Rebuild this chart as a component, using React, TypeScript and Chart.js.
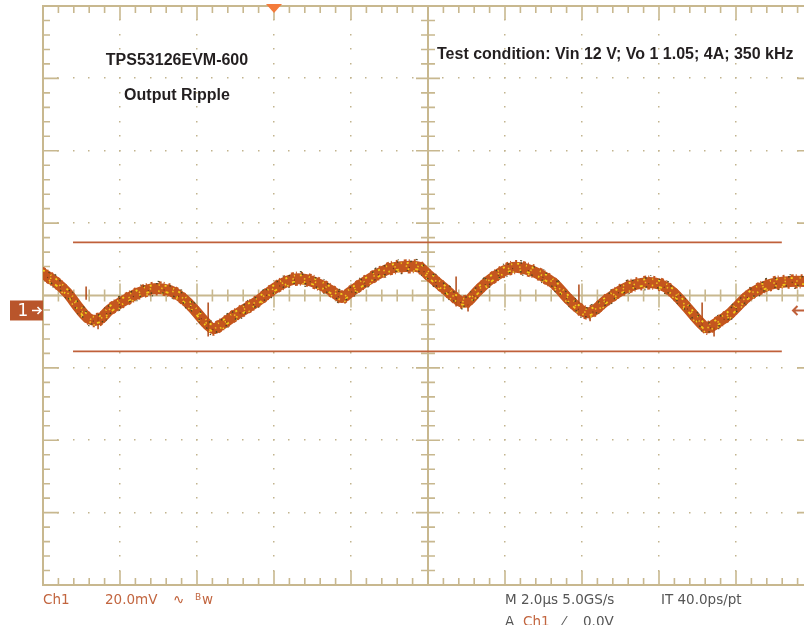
import React, { useEffect, useRef } from "react";
import { Chart, registerables } from "chart.js";

Chart.register(...registerables);

// ---- Data (time in µs, voltage in mV relative to Ch1 ground) ----
const timeUs = [
  -6.0, -5.69, -5.38, -5.04, -4.78, -4.52, -4.26, -3.66, -3.35, -3.04, -2.7, -2.36, -2.05, -1.79,
  -1.58, -1.35, -1.01, -0.44, 0.08, 0.49, 0.81, 1.19, 1.53, 1.77, 1.97, 2.42, 3.01, 3.53, 3.79,
  3.97, 4.39, 4.83, 5.04, 5.27, 5.69, 6.21, 6.6, 6.91, 7.3, 7.61, 8.03, 8.26, 8.65, 9.17, 9.69,
  10.03, 10.34, 10.73, 11.06, 11.25, 11.45, 11.84, 12.36, 12.88, 13.4, 14.0,
];
const rippleMv = [
  10.2, 8.0, 5.0, 0.3, -2.4, -2.4, 0.3, 4.1, 5.5, 6.1, 5.5, 3.3, 0.0, -3.2,
  -5.0, -3.8, -1.3, 2.5, 6.6, 8.6, 8.6, 7.2, 5.2, 3.6, 5.0, 8.3, 11.6, 12.2, 11.9,
  10.2, 6.4, 2.6, 2.6, 5.2, 9.1, 11.9, 11.3, 9.9, 7.2, 3.6, -0.3, -0.3, 3.0, 6.4, 7.7,
  7.2, 5.2, 0.8, -3.2, -4.8, -3.8, -0.9, 4.4, 7.2, 8.0, 8.0,
];
const spikeTimeUs = [-4.88, -4.57, -1.71, 4.73, 5.04, 7.92, 8.21, 11.12, 11.43];
const spikeHighMv = [6.6, -1.9, 2.2, 9.4, 1.7, 7.2, -1.1, 2.2, -4.7];
const spikeLowMv = [3.0, -5.2, -7.2, 1.1, -0.3, 1.1, -3.0, -4.4, -7.2];
const cursorLevelsMv = [18.8, -11.3];
const cursorSpanUs = [-5.22, 13.19];

const triggerTimeUs = 0;
const triggerLevelMv = 0;
const X_MIN = -6;
const X_MAX = 14; // 2.0 µs/div × 10 div
const MV_PER_DIV = 20;
const SCREEN_CENTER_MV = 4.14;
const Y_MIN = SCREEN_CENTER_MV - 4 * MV_PER_DIV;
const Y_MAX = SCREEN_CENTER_MV + 4 * MV_PER_DIV;

const titleLines = ["TPS53126EVM-600", "Output Ripple"];
const conditionText = "Test condition: Vin 12 V; Vo 1 1.05; 4A; 350 kHz";

const GRAT = "#c8b88f";
const DOT = "#c2b48e";
const TRACE = "#c4561e";
const CURSOR = "#c0603a";
const LABEL_ORANGE = "#c2653f";
const LABEL_GREY = "#555555";

const graticulePlugin = {
  id: "graticule",
  beforeDatasetsDraw(chart: any) {
    const { ctx, chartArea } = chart;
    const { left, right, top, bottom } = chartArea;
    const dx = (right - left) / 10;
    const dy = (bottom - top) / 8;
    ctx.save();
    ctx.fillStyle = DOT;
    for (let i = 1; i < 10; i++) {
      if (i === 5) continue;
      const xp = left + i * dx;
      for (let k = 1; k < 40; k++) {
        const yp = top + (k * dy) / 5;
        ctx.fillRect(Math.round(xp) - 1, Math.round(yp) - 1, 1.5, 1.5);
      }
    }
    for (let j = 1; j < 8; j++) {
      if (j === 4) continue;
      const yp = top + j * dy;
      for (let k = 1; k < 50; k++) {
        const xp = left + (k * dx) / 5;
        ctx.fillRect(Math.round(xp) - 1, Math.round(yp) - 1, 1.5, 1.5);
      }
    }
    ctx.strokeStyle = GRAT;
    const cx = left + 5 * dx;
    const cy = top + 4 * dy;
    ctx.lineWidth = 2;
    ctx.beginPath();
    ctx.moveTo(cx, top);
    ctx.lineTo(cx, bottom);
    ctx.moveTo(left, cy);
    ctx.lineTo(right, cy);
    ctx.stroke();
    ctx.lineWidth = 1.6;
    ctx.beginPath();
    for (let k = 1; k < 40; k++) {
      const yp = top + (k * dy) / 5;
      const h = k % 5 === 0 ? 12 : 7;
      ctx.moveTo(cx - h, yp);
      ctx.lineTo(cx + h, yp);
    }
    for (let k = 1; k < 50; k++) {
      const xp = left + (k * dx) / 5;
      const h = k % 5 === 0 ? 12 : 6;
      ctx.moveTo(xp, cy - h);
      ctx.lineTo(xp, cy + h);
    }
    for (let k = 1; k < 50; k++) {
      const xp = left + (k * dx) / 5;
      const h = k % 5 === 0 ? 14 : 7;
      ctx.moveTo(xp, top);
      ctx.lineTo(xp, top + h);
      ctx.moveTo(xp, bottom);
      ctx.lineTo(xp, bottom - h);
    }
    for (let k = 1; k < 40; k++) {
      const yp = top + (k * dy) / 5;
      const h = k % 5 === 0 ? 16 : 7;
      ctx.moveTo(left, yp);
      ctx.lineTo(left + h, yp);
      ctx.moveTo(right, yp);
      ctx.lineTo(right - h, yp);
    }
    ctx.stroke();
    ctx.lineWidth = 2;
    ctx.strokeRect(left, top, right - left, bottom - top);
    ctx.restore();
  },
};

const texturePlugin = {
  id: "texture",
  afterDatasetsDraw(chart: any) {
    const { ctx, chartArea } = chart;
    const meta = chart.getDatasetMeta(0);
    const line: any = meta.dataset;
    if (!line) return;
    const passes = [
      { dy: -6.0, color: TRACE, w: 2.2, dash: [3, 2, 1, 4, 2, 6], off: 0 },
      { dy: 6.0, color: TRACE, w: 2.2, dash: [2, 5, 3, 2, 1, 5], off: 3 },
      { dy: -7.0, color: "#5a4f26", w: 1.2, dash: [1, 17, 2, 23], off: 4 },
      { dy: 7.0, color: "#5a4f26", w: 1.2, dash: [1.5, 19, 1, 15], off: 9 },
      { dy: -3.4, color: "#f4d51f", w: 1.8, dash: [2, 7, 1, 5], off: 0 },
      { dy: 2.8, color: "#f2cc1a", w: 1.8, dash: [3, 9, 1.5, 6], off: 5 },
      { dy: -0.3, color: "#eec421", w: 1.5, dash: [1.5, 10], off: 3 },
      { dy: 4.8, color: "#f0d030", w: 1.4, dash: [1.5, 14], off: 8 },
      { dy: -4.8, color: "#4a4622", w: 1.3, dash: [1.5, 12], off: 7 },
      { dy: 4.2, color: "#4a4622", w: 1.3, dash: [1.5, 10], off: 2 },
      { dy: 1.0, color: "#6a3a18", w: 1.2, dash: [1, 15], off: 11 },
    ];
    ctx.save();
    ctx.beginPath();
    ctx.rect(chartArea.left, chartArea.top, chartArea.right - chartArea.left, chartArea.bottom - chartArea.top);
    ctx.clip();
    for (const p of passes) {
      ctx.save();
      ctx.translate(0, p.dy);
      ctx.setLineDash(p.dash);
      ctx.lineDashOffset = p.off;
      ctx.strokeStyle = p.color;
      ctx.lineWidth = p.w;
      ctx.beginPath();
      if (typeof line.path === "function") {
        line.path(ctx);
      } else {
        meta.data.forEach((pt: any, i: number) => (i ? ctx.lineTo(pt.x, pt.y) : ctx.moveTo(pt.x, pt.y)));
      }
      ctx.stroke();
      ctx.restore();
    }
    ctx.restore();
  },
};

const markerPlugin = {
  id: "markers",
  afterDraw(chart: any) {
    const { ctx, scales, chartArea } = chart;
    const xs = scales.x;
    const ys = scales.y;
    ctx.save();
    const tx = xs.getPixelForValue(triggerTimeUs);
    ctx.fillStyle = "#f47b3b";
    ctx.beginPath();
    ctx.moveTo(tx - 8, 4);
    ctx.lineTo(tx + 8, 4);
    ctx.lineTo(tx, 13);
    ctx.closePath();
    ctx.fill();
    const gy = ys.getPixelForValue(0);
    ctx.fillStyle = "#b9552b";
    ctx.fillRect(10, gy - 10, 33, 20);
    ctx.fillStyle = "#ffffff";
    ctx.font = '17px "DejaVu Sans"';
    ctx.textAlign = "center";
    ctx.textBaseline = "middle";
    ctx.fillText("1", 23, gy + 1);
    ctx.strokeStyle = "#ffffff";
    ctx.lineWidth = 1.6;
    ctx.beginPath();
    ctx.moveTo(32, gy);
    ctx.lineTo(41, gy);
    ctx.moveTo(37.5, gy - 3.5);
    ctx.lineTo(41, gy);
    ctx.lineTo(37.5, gy + 3.5);
    ctx.stroke();
    const ty = ys.getPixelForValue(triggerLevelMv);
    ctx.strokeStyle = CURSOR;
    ctx.lineWidth = 2;
    ctx.beginPath();
    ctx.moveTo(806, ty);
    ctx.lineTo(793, ty);
    ctx.moveTo(797.5, ty - 4.5);
    ctx.lineTo(793, ty);
    ctx.lineTo(797.5, ty + 4.5);
    ctx.stroke();

    ctx.fillStyle = "#231f20";
    ctx.textBaseline = "alphabetic";
    ctx.textAlign = "center";
    ctx.font = 'bold 16px "Liberation Sans", Arial, sans-serif';
    ctx.fillText(titleLines[0], 177, 65);
    ctx.fillText(titleLines[1], 177, 100);
    ctx.textAlign = "left";
    ctx.fillText(conditionText, 437, 59);

    const base1 = chartArea.bottom + 19;
    const base2 = chartArea.bottom + 41;
    ctx.font = '13.5px "DejaVu Sans"';
    ctx.fillStyle = LABEL_ORANGE;
    ctx.fillText("Ch1", 43, base1);
    ctx.fillText("20.0mV", 105, base1);
    ctx.fillText("∿", 173, base1);
    ctx.font = '9px "DejaVu Sans"';
    ctx.fillText("B", 195, base1 - 4);
    ctx.font = '13.5px "DejaVu Sans"';
    ctx.fillText("w", 202, base1);
    ctx.fillStyle = LABEL_GREY;
    ctx.fillText("M 2.0µs 5.0GS/s", 505, base1);
    ctx.fillText("IT 40.0ps/pt", 661, base1);
    ctx.fillText("A", 505, base2);
    ctx.fillStyle = LABEL_ORANGE;
    ctx.fillText("Ch1", 523, base2);
    ctx.fillStyle = LABEL_GREY;
    ctx.fillText("⁄", 563, base2);
    ctx.fillText("0.0V", 583, base2);
    ctx.restore();
  },
};

export default function App() {
  const ref = useRef<HTMLCanvasElement | null>(null);
  useEffect(() => {
    if (!ref.current) return;
    const waveform = timeUs.map((t, i) => ({ x: t, y: rippleMv[i] }));
    const spikes: any[] = [];
    spikeTimeUs.forEach((t, i) => {
      spikes.push({ x: t, y: spikeHighMv[i] }, { x: t, y: spikeLowMv[i] }, { x: t, y: null });
    });
    const cursorSets = cursorLevelsMv.map((lv) => ({
      data: cursorSpanUs.map((t) => ({ x: t, y: lv })),
      borderColor: CURSOR,
      borderWidth: 1.7,
      pointRadius: 0,
      tension: 0,
    }));
    const chart = new Chart(ref.current, {
      type: "line",
      data: {
        datasets: [
          {
            data: waveform,
            borderColor: TRACE,
            borderWidth: 11,
            pointRadius: 0,
            tension: 0.35,
            borderCapStyle: "round",
            borderJoinStyle: "round",
            order: 1,
          } as any,
          {
            data: spikes,
            borderColor: "#b04a18",
            borderWidth: 1.5,
            pointRadius: 0,
            spanGaps: false,
            tension: 0,
            order: 0,
          } as any,
          ...cursorSets,
        ],
      },
      options: {
        responsive: false,
        maintainAspectRatio: false,
        animation: false,
        devicePixelRatio: 1,
        events: [],
        layout: { padding: { left: 43, top: 6, right: 17, bottom: 40 } },
        plugins: { legend: { display: false }, tooltip: { enabled: false }, title: { display: false } },
        scales: {
          x: { type: "linear", min: X_MIN, max: X_MAX, display: false },
          y: { type: "linear", min: Y_MIN, max: Y_MAX, display: false },
        },
      },
      plugins: [graticulePlugin, texturePlugin, markerPlugin],
    });
    return () => chart.destroy();
  }, []);
  return (
    <div
      style={{
        position: "fixed",
        left: 0,
        top: 0,
        width: 804,
        height: 625,
        overflow: "hidden",
        background: "#ffffff",
      }}
    >
      <canvas ref={ref} width={830} height={625} style={{ width: 830, height: 625, display: "block" }} />
    </div>
  );
}
